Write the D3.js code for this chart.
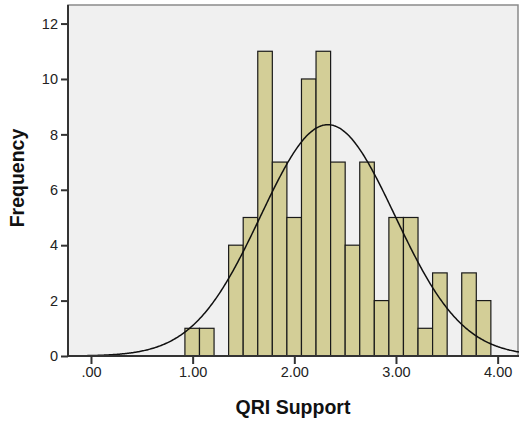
<!DOCTYPE html>
<html><head><meta charset="utf-8">
<script src="https://cdn.jsdelivr.net/npm/d3@7"></script>
<style>
body{margin:0;background:#fff;}
text{font-family:"Liberation Sans",Arial,sans-serif;}
</style></head>
<body><svg id="c" width="519" height="426"></svg>
<script>
// Data
const binStart = 0.924;
const binWidth = 0.1433;
const counts = [1,1,0,4,5,11,7,5,10,11,7,4,7,2,5,5,1,3,0,3,2];
const xTicks = [0,1,2,3,4];
const yTicks = [0,2,4,6,8,10,12];
const curveMean = 2.33;
const curveSD = 0.66;
const curvePeak = 8.35;
const xLabel = "QRI Support";
const yLabel = "Frequency";

(function () {
const mLeft = 68, mRight = 519, mTop = 5, mBottom = 356;
const svg = d3.select("#c");
const x = d3.scaleLinear().domain([-0.226, 4.21]).range([mLeft, mRight]);
const y = d3.scaleLinear().domain([0, 12.67]).range([mBottom, mTop]);

svg.append("rect").attr("x", mLeft).attr("y", mTop).attr("width", mRight - mLeft - 1).attr("height", mBottom - mTop)
  .attr("fill", "#f0f0f0").attr("stroke", "#8a8a8a").attr("stroke-width", 1.5);

const bins = counts.map((c, i) => ({x0: binStart + i * binWidth, x1: binStart + (i + 1) * binWidth, c}));
svg.append("g").selectAll("rect").data(bins.filter(d => d.c > 0)).join("rect")
  .attr("x", d => x(d.x0)).attr("y", d => y(d.c))
  .attr("width", d => x(d.x1) - x(d.x0)).attr("height", d => y(0) - y(d.c))
  .attr("fill", "#d3ce97").attr("stroke", "#1a1a1a").attr("stroke-width", 1.2);

const normal = v => curvePeak * Math.exp(-0.5 * ((v - curveMean) / curveSD) ** 2);
const pts = d3.range(-0.05, 4.215, 0.01).map(v => [v, normal(v)]);
svg.append("path").datum(pts)
  .attr("d", d3.line().x(d => x(d[0])).y(d => y(d[1])).curve(d3.curveBasis))
  .attr("fill", "none").attr("stroke", "#111").attr("stroke-width", 1.5);

const yAxis = svg.append("g").attr("transform", `translate(${mLeft},0)`)
  .call(d3.axisLeft(y).tickValues(yTicks).tickSize(7).tickPadding(3).tickFormat(d3.format("d")));
const xAxis = svg.append("g").attr("transform", `translate(0,${mBottom})`)
  .call(d3.axisBottom(x).tickValues(xTicks).tickSize(8).tickPadding(3).tickFormat(d => d === 0 ? ".00" : d3.format(".2f")(d)));
[yAxis, xAxis].forEach(g => {
  g.select(".domain").attr("stroke", "#333").attr("stroke-width", 2);
  g.selectAll(".tick line").attr("stroke", "#333").attr("stroke-width", 2);
  g.selectAll(".tick text").attr("font-size", 14.5).attr("fill", "#222").attr("font-family", "'Liberation Sans',Arial,sans-serif");
});
xAxis.select(".domain").attr("d", `M${mLeft},0H${mRight}`);
yAxis.select(".domain").attr("d", `M0,${mBottom}V${mTop}`);

svg.append("text").attr("x", 293).attr("y", 414).attr("text-anchor", "middle")
  .attr("font-size", 19.5).attr("font-weight", "bold").attr("fill", "#111").text(xLabel);
svg.append("text").attr("transform", "translate(24,178) rotate(-90)").attr("text-anchor", "middle")
  .attr("font-size", 19.5).attr("font-weight", "bold").attr("fill", "#111").text(yLabel);
})();
</script></body></html>
